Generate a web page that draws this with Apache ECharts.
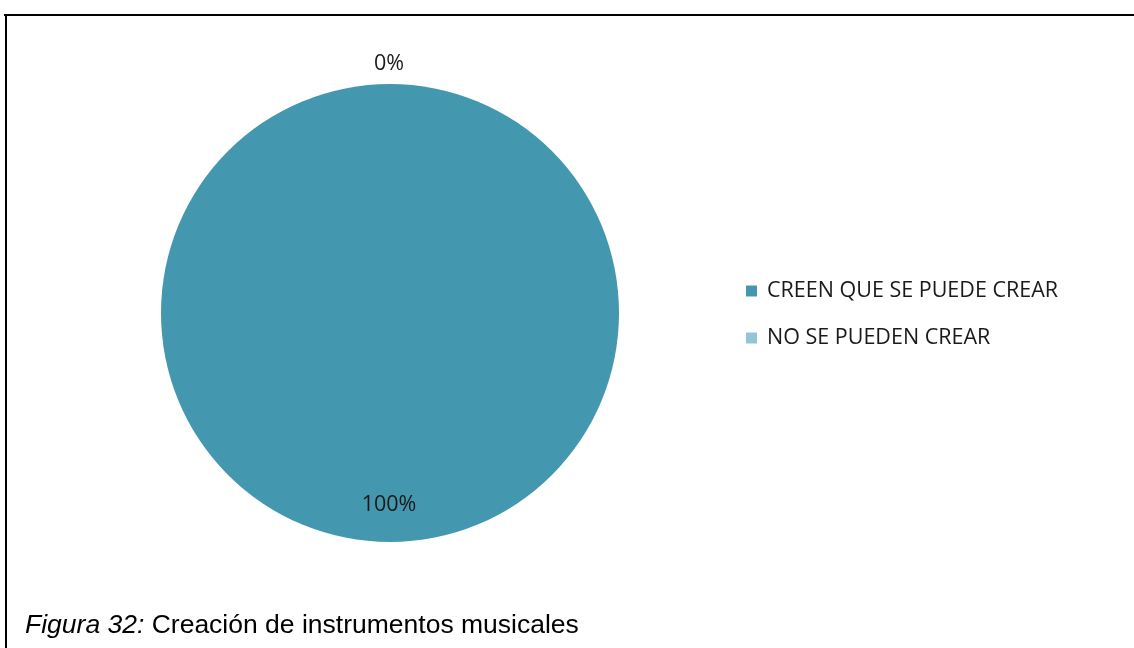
<!DOCTYPE html>
<html>
<head>
<meta charset="utf-8">
<style>
  html, body { margin: 0; padding: 0; background: #fff; }
  #chart { width: 1134px; height: 648px; }
</style>
<script src="https://cdn.jsdelivr.net/npm/echarts@6/dist/echarts.min.js"></script>
</head>
<body>
<div id="chart"></div>
<script>
// Survey answers about whether musical instruments can be created
const categories = ['CREEN QUE SE PUEDE CREAR', 'NO SE PUEDEN CREAR'];
const values = [100, 0];
const colors = ['#4398B0', '#93C5D7'];
const captionLead = 'Figura 32:';
const captionText = ' Creación de instrumentos musicales';

const chart = echarts.init(document.getElementById('chart'), null, { renderer: 'canvas' });

chart.setOption({
  animation: false,
  backgroundColor: '#ffffff',
  color: colors,
  title: {
    left: 25,
    top: 612,
    padding: 0,
    text: '{it|' + captionLead + '}{n|' + captionText + '}',
    textStyle: {
      fontWeight: 'normal',
      rich: {
        it: { fontFamily: 'Liberation Sans', fontStyle: 'italic', fontWeight: 'normal', fontSize: 26.5, color: '#000' },
        n: { fontFamily: 'Liberation Sans', fontWeight: 'normal', fontSize: 26.5, color: '#000' }
      }
    }
  },
  legend: {
    orient: 'vertical',
    left: 741,
    top: 275,
    itemWidth: 11,
    itemHeight: 11,
    itemGap: 25,
    icon: 'rect',
    textStyle: { fontFamily: 'Open Sans', fontSize: 21.5, color: '#1a1a1a', lineHeight: 22, padding: [0, 0, 0, 5] },
    data: categories
  },
  graphic: [
    { type: 'line', shape: { x1: 4, y1: 15, x2: 1134, y2: 15 }, style: { stroke: '#000', lineWidth: 2 } },
    { type: 'line', shape: { x1: 6, y1: 14, x2: 6, y2: 648 }, style: { stroke: '#000', lineWidth: 2 } }
  ],
  series: [{
    type: 'pie',
    center: [390, 313],
    radius: 229,
    startAngle: 90,
    clockwise: true,
    avoidLabelOverlap: false,
    stillShowZeroSum: true,
    minShowLabelAngle: 0,
    label: {
      formatter: '{d}%',
      fontFamily: 'Open Sans',
      fontSize: 21.5,
      color: '#1a1a1a'
    },
    labelLine: { show: false, length: 0, length2: 0 },
    labelLayout: function (p) {
      if (p.dataIndex === 0) {
        return { dy: 74, dx: -1 };
      }
      return { align: 'center', verticalAlign: 'middle', dy: -20, dx: -6 };
    },
    itemStyle: { borderWidth: 0 },
    emphasis: { disabled: true },
    data: categories.map(function (name, i) {
      return {
        name: name,
        value: values[i],
        label: { position: i === 0 ? 'inside' : 'outside' }
      };
    })
  }]
});
</script>
</body>
</html>
